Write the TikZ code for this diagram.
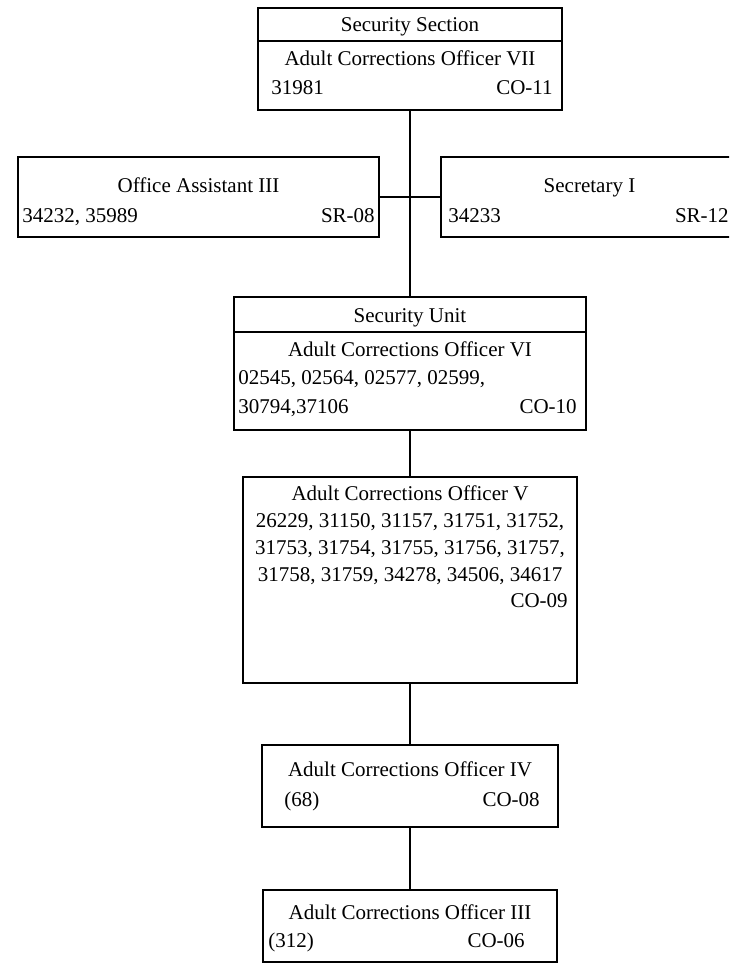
\documentclass[tikz,border=0pt]{standalone}
\usepackage{fontspec}
\setmainfont{Liberation Serif}
\usetikzlibrary{calc}

\tikzset{
  post/.style={draw, line width=1.8pt, inner sep=0pt},
  link/.style={line width=1.8pt},
  ttl/.style={anchor=base, inner sep=0pt},
  lft/.style={anchor=base west, inner sep=0pt},
  rgt/.style={anchor=base east, inner sep=0pt},
  every node/.append style={font=\fontsize{21pt}{25pt}\selectfont}
}

\begin{document}
\begin{tikzpicture}[x=1pt, y=1pt]
\useasboundingbox (0,0) rectangle (729,-967);
\clip (0,0) rectangle (729,-967);

% boxes
\node[post, minimum width=304pt, minimum height=102pt] (sect) at (410,-59) {};
\node[post, minimum width=361pt, minimum height=80pt] (asst) at (198.5,-197) {};
\node[post, minimum width=297pt, minimum height=80pt] (secy) at (589.5,-197) {};
\node[post, minimum width=352pt, minimum height=133pt] (unit) at (410,-363.5) {};
\node[post, minimum width=334pt, minimum height=206pt] (five) at (410,-580) {};
\node[post, minimum width=296pt, minimum height=82pt] (four) at (410,-786) {};
\node[post, minimum width=294pt, minimum height=72pt] (three) at (410,-926) {};

% header rules
\draw[link] ([yshift=-34pt]sect.north west) -- ([yshift=-34pt]sect.north east);
\draw[link] ([yshift=-36pt]unit.north west) -- ([yshift=-36pt]unit.north east);

% Security Section
\node[ttl] (sectname) at ([yshift=-24pt]sect.north) {Security Section};
\node[ttl] (secttitle) at ([yshift=-58pt]sect.north) {Adult Corrections Officer VII};
\node[lft] (sectnum) at ([shift={(14pt,-87pt)}]sect.north west) {31981};
\node[rgt] (sectgrade) at ([shift={(-10pt,-87pt)}]sect.north east) {CO-11};

% Office Assistant / Secretary
\node[ttl] (assttitle) at ([yshift=-36pt]asst.north) {Office Assistant III};
\node[lft] (asstnum) at ([shift={(5pt,-66pt)}]asst.north west) {34232, 35989};
\node[rgt] (asstgrade) at ([shift={(-5pt,-66pt)}]asst.north east) {SR-08};
\node[ttl] (secytitle) at ([yshift=-36pt]secy.north) {Secretary I};
\node[lft] (secynum) at ([shift={(8pt,-66pt)}]secy.north west) {34233};
\node[rgt] (secygrade) at ([shift={(-10pt,-66pt)}]secy.north east) {SR-12};

% Security Unit
\node[ttl] (unitname) at ([yshift=-26pt]unit.north) {Security Unit};
\node[ttl] (unittitle) at ([yshift=-60pt]unit.north) {Adult Corrections Officer VI};
\node[lft] (unitnuma) at ([shift={(5pt,-88pt)}]unit.north west) {02545, 02564, 02577, 02599,};
\node[lft] (unitnumb) at ([shift={(5pt,-117pt)}]unit.north west) {30794,37106};
\node[rgt] (unitgrade) at ([shift={(-10pt,-117pt)}]unit.north east) {CO-10};

% Officer V
\node[ttl] (fivetitle) at ([yshift=-24pt]five.north) {Adult Corrections Officer V};
\node[ttl] (fivenuma) at ([yshift=-51pt]five.north) {26229, 31150, 31157, 31751, 31752,};
\node[ttl] (fivenumb) at ([yshift=-78pt]five.north) {31753, 31754, 31755, 31756, 31757,};
\node[ttl] (fivenumc) at ([yshift=-105pt]five.north) {31758, 31759, 34278, 34506, 34617};
\node[rgt] (fivegrade) at ([shift={(-10pt,-131pt)}]five.north east) {CO-09};

% Officer IV
\node[ttl] (fourtitle) at ([yshift=-32pt]four.north) {Adult Corrections Officer IV};
\node[lft] (fournum) at ([shift={(23pt,-62pt)}]four.north west) {(68)};
\node[rgt] (fourgrade) at ([shift={(-19pt,-62pt)}]four.north east) {CO-08};

% Officer III
\node[ttl] (threetitle) at ([yshift=-30pt]three.north) {Adult Corrections Officer III};
\node[lft] (threenum) at ([shift={(6pt,-58pt)}]three.north west) {(312)};
\node[rgt] (threegrade) at ([shift={(-33pt,-58pt)}]three.north east) {CO-06};

% connectors
\draw[link] (sect.south) -- (unit.north);
\draw[link] (asst.east) -- (secy.west);
\draw[link] (unit.south) -- (five.north);
\draw[link] (five.south) -- (four.north);
\draw[link] (four.south) -- (three.north);
\end{tikzpicture}
\end{document}
